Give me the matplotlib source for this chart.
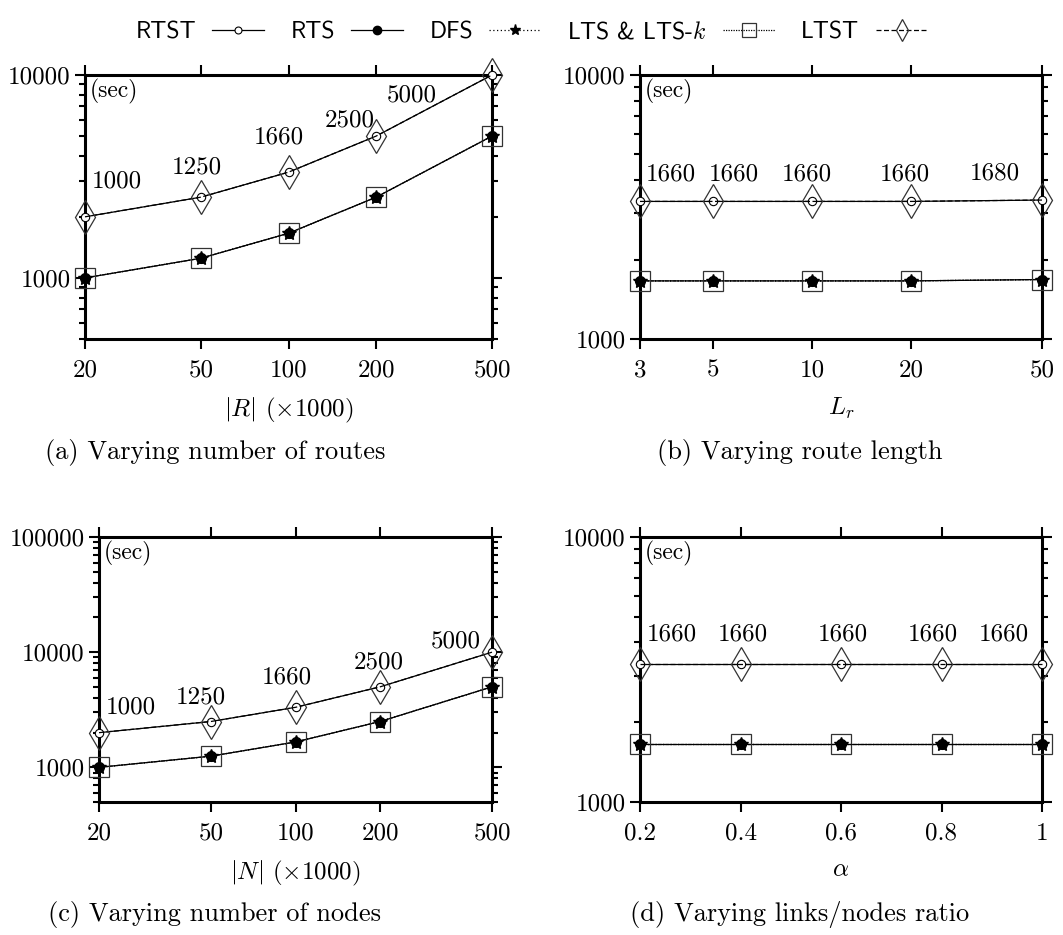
import matplotlib
matplotlib.use("Agg")
import matplotlib.pyplot as plt
from matplotlib.lines import Line2D
from matplotlib.ticker import FixedLocator, FixedFormatter, LogLocator, NullFormatter, NullLocator

plt.rcParams['font.family'] = 'cmr10'
plt.rcParams['mathtext.fontset'] = 'cm'
plt.rcParams['axes.formatter.use_mathtext'] = True

# x values of the four experiments
routes = [20, 50, 100, 200, 500]
route_len = [3, 5, 10, 20, 50]
nodes = [20, 50, 100, 200, 500]
ratio = [0.2, 0.4, 0.6, 0.8, 1.0]

# running time (sec): RTS / DFS / LTS share one curve, RTST / LTST the other
a_fast = [1000, 1250, 1660, 2500, 5000]
a_slow = [2000, 2500, 3320, 5000, 10000]
b_fast = [1660, 1660, 1660, 1660, 1680]
b_slow = [3320, 3320, 3320, 3320, 3360]
c_fast = [1000, 1250, 1660, 2500, 5000]
c_slow = [2000, 2500, 3320, 5000, 10000]
d_fast = [1660, 1660, 1660, 1660, 1660]
d_slow = [3320, 3320, 3320, 3320, 3320]

# where the value labels sit, relative to the upper points (pixels)
a_off = [(32, 35), (-4, 30), (-10, 35), (-26, 16), (-80, -20)]
b_off = [(31, 27), (21, 27), (-5, 27), (-6, 27), (-47, 27)]
c_off = [(32, 25), (-10, 24), (-9, 30), (-1, 24), (-36, 11)]
d_off = [(32, 29), (2, 29), (2, 29), (-9, 29), (-38, 29)]

lw = 0.9
sty = {
    'RTST': dict(color='black', lw=lw, ls='-', marker='o', ms=6, mfc='white', mec='black', mew=0.8),
    'RTS': dict(color='black', lw=lw, ls='-', marker='o', ms=7, mfc='black', mec='black'),
    'DFS': dict(color='black', lw=lw, ls=(0, (1, 2)), marker='*', ms=10, mfc='black', mec='black'),
    'LTS': dict(color='black', lw=lw, ls=(0, (1, 1)), marker='s', ms=14, mfc='none', mec='#333333', mew=0.9),
    'LTST': dict(color='black', lw=lw, ls=(0, (4, 2)), marker='d', ms=17, mfc='none', mec='#333333', mew=0.9),
}

W, H = 1063, 935
fig = plt.figure(figsize=(W / 100, H / 100), dpi=100)


def box(l, r, t, b):
    return [l / W, 1 - b / H, (r - l) / W, (b - t) / H]


ax_a = fig.add_axes(box(85, 492, 75, 339))
ax_b = fig.add_axes(box(640, 1042, 75, 339))
ax_c = fig.add_axes(box(99, 492, 537, 802))
ax_d = fig.add_axes(box(640, 1042, 537, 802))


def panel(ax, x, fast, slow, off):
    ax.plot(x, slow, clip_on=False, zorder=3, **sty['RTST'])
    ax.plot(x, fast, clip_on=False, zorder=3, **sty['RTS'])
    ax.plot(x, fast, clip_on=False, zorder=4, **sty['DFS'])
    ax.plot(x, fast, clip_on=False, zorder=3, **sty['LTS'])
    ax.plot(x, slow, clip_on=False, zorder=3, **sty['LTST'])
    for xi, yi, val, o in zip(x, slow, fast, off):
        ax.annotate(str(val), (xi, yi), xytext=o, textcoords='offset pixels',
                    ha='center', va='center', fontsize=18)
    ax.text(0.012, 0.985, '(sec)', transform=ax.transAxes, ha='left', va='top', fontsize=17)
    ax.set_yscale('log')
    ax.yaxis.set_minor_locator(LogLocator(base=10, subs=range(2, 10)))
    ax.yaxis.set_minor_formatter(NullFormatter())
    ax.tick_params(which='both', direction='out', top=True, right=True, width=1.5, labelsize=18)
    ax.tick_params(which='major', length=7)
    ax.tick_params(which='minor', length=4)
    ax.tick_params(axis='x', pad=8)
    for s in ax.spines.values():
        s.set_linewidth(2.2)


def xticks(ax, ticks, labels):
    ax.xaxis.set_major_locator(FixedLocator(ticks))
    ax.xaxis.set_major_formatter(FixedFormatter(labels))
    ax.xaxis.set_minor_locator(NullLocator())
    ax.set_xlim(ticks[0], ticks[-1])


def yticks(ax, ticks, lo, hi):
    ax.yaxis.set_major_locator(FixedLocator(ticks))
    ax.yaxis.set_major_formatter(FixedFormatter([str(t) for t in ticks]))
    ax.set_ylim(lo, hi)


panel(ax_a, routes, a_fast, a_slow, a_off)
ax_a.set_xscale('log')
xticks(ax_a, routes, [str(v) for v in routes])
yticks(ax_a, [1000, 10000], 500, 10000)

panel(ax_b, route_len, b_fast, b_slow, b_off)
ax_b.set_xscale('log')
xticks(ax_b, route_len, [str(v) for v in route_len])
yticks(ax_b, [1000, 10000], 1000, 10000)

panel(ax_c, nodes, c_fast, c_slow, c_off)
ax_c.set_xscale('log')
xticks(ax_c, nodes, [str(v) for v in nodes])
yticks(ax_c, [1000, 10000, 100000], 500, 100000)

panel(ax_d, ratio, d_fast, d_slow, d_off)
xticks(ax_d, ratio, ['0.2', '0.4', '0.6', '0.8', '1'])
yticks(ax_d, [1000, 10000], 1000, 10000)

ax_a.set_xlabel(r'$|R|$ ($\times$1000)', fontsize=18, labelpad=10)
ax_b.set_xlabel(r'$L_r$', fontsize=18, labelpad=10)
ax_c.set_xlabel(r'$|N|$ ($\times$1000)', fontsize=18, labelpad=10)
ax_d.set_xlabel(r'$\alpha$', fontsize=18, labelpad=10)

# sub-captions, centred on each sub-figure column
captions = ['(a) Varying number of routes', '(b) Varying route length',
            '(c) Varying number of nodes', '(d) Varying links/nodes ratio']
cap_x = [215, 800, 215, 800]
cap_y = [452, 452, 915, 915]
for cap, cx, cy in zip(captions, cap_x, cap_y):
    fig.text(cx / W, 1 - cy / H, cap, ha='center', va='center', fontsize=19)

# legend with smaller markers than the plots
names = ['RTST', 'RTS', 'DFS', r'LTS & LTS-$k$', 'LTST']
keys = ['RTST', 'RTS', 'DFS', 'LTS', 'LTST']
leg_ms = {'RTST': 5, 'RTS': 6, 'DFS': 8, 'LTS': 10, 'LTST': 11}
handles = []
for k in keys:
    st = dict(sty[k])
    st['ms'] = leg_ms[k]
    handles.append(Line2D([], [], **st))
fig.legend(handles, names, loc='upper center', bbox_to_anchor=(0.5, 1.0), ncol=5,
           frameon=False, markerfirst=False, prop={'family': 'cmss10', 'size': 17},
           handlelength=2.2, handletextpad=0.7, columnspacing=1.1)

fig.savefig('out.png', dpi=100)
